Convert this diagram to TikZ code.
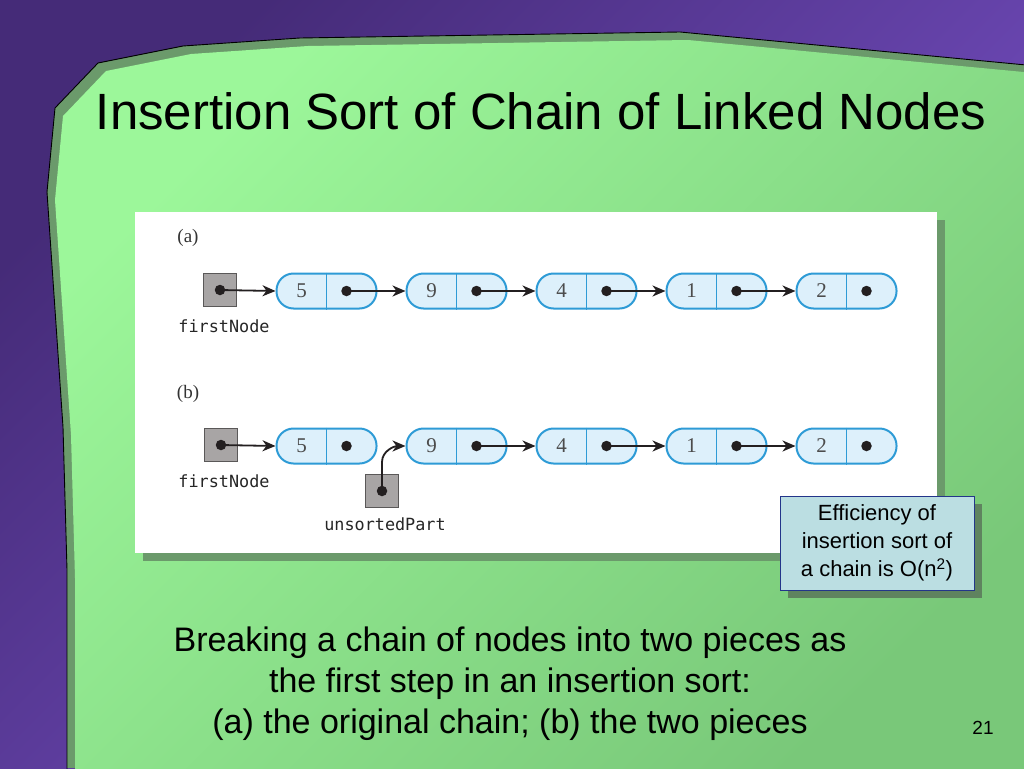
\documentclass[tikz,border=0pt]{standalone}
\usepackage{fontspec}
\setmainfont{Liberation Sans}
\newfontfamily\figserif{Liberation Serif}
\newfontfamily\figmono{DejaVu Sans Mono}
\usetikzlibrary{positioning,arrows.meta,shadows}

\definecolor{slidedark}{HTML}{452B78}
\definecolor{slidelight}{HTML}{7B53CC}
\definecolor{panellight}{HTML}{9CF79A}
\definecolor{paneldark}{HTML}{79C879}
\definecolor{panelband}{HTML}{6B9A6B}
\definecolor{effshade}{HTML}{5F835F}
\definecolor{efffill}{HTML}{BBDEE2}
\definecolor{effedge}{HTML}{23358A}
\definecolor{linkblue}{HTML}{2E9BD6}
\definecolor{linkfill}{HTML}{DDF0FB}
\definecolor{refgray}{HTML}{A8A5A5}
\definecolor{refedge}{HTML}{5A5858}
\definecolor{ink}{HTML}{231F20}

\tikzset{
    >={Stealth[length=13pt,width=11pt,inset=4pt]},
    link/.style = {draw=linkblue, fill=linkfill, line width=2pt,
        rounded corners=17pt, minimum width=100pt, minimum height=35pt, inner sep=0pt},
    linkedge/.style = {draw=linkblue, line width=1.8pt},
    refbox/.style = {draw=refedge, fill=refgray, line width=0.8pt, minimum size=33pt, inner sep=0pt},
    ptr/.style = {circle, fill=ink, inner sep=0pt, minimum size=10.5pt},
    pointer/.style = {draw=ink, line width=1.8pt},
    value/.style = {text=black!70, font=\figserif\fontsize{21}{24}\selectfont},
    figlabel/.style = {text=black!80, font=\figserif\fontsize{19}{22}\selectfont},
    reflabel/.style = {text=black!85, inner sep=0pt, font=\figmono\fontsize{16.8}{20}\selectfont},
    figpanel/.style = {fill=white, minimum width=802pt, minimum height=341pt,
        drop shadow={shadow xshift=8pt, shadow yshift=-8pt, fill=panelband, opacity=1}},
    effbox/.style = {draw=effedge, fill=efffill, line width=0.8pt, align=center,
        minimum width=194pt, minimum height=94pt, inner sep=0pt,
        font=\fontsize{22}{28}\selectfont,
        drop shadow={shadow xshift=8pt, shadow yshift=-8pt, fill=effshade, opacity=1}},
}

\begin{document}
\begin{tikzpicture}[x=1pt, y=-1pt]
    \useasboundingbox (0,0) rectangle (1024,768);
    \def\slidepanel{(67,770) -- (67,570) -- (63,427) -- (47,192) -- (55,108) -- (98,63)
        -- (183,46) -- (300,38) -- (680,32) -- (1026,65) -- (1026,770) -- cycle}

    % background and panel
    \shade[top color=slidedark, bottom color=slidelight, shading angle=45] (0,0) rectangle (1024,768);
    \begin{scope}
        \clip \slidepanel;
        \fill[panelband] (0,0) rectangle (1024,768);
        \shade[top color=panellight, bottom color=paneldark, shading angle=45, shift={(8,8)}] \slidepanel;
    \end{scope}
    \draw[black, line width=0.9pt] \slidepanel;

    \node (title) at (541,111) {\fontsize{51}{60}\selectfont Insertion Sort of Chain of Linked Nodes};

    \node[figpanel] (fig) at (536,382.5) {};

    \node[figlabel] (alabel) at (188,238) {(a)};
    \node[figlabel] (blabel) at (188,394) {(b)};

    \foreach \row/\y in {a/291,b/446}
        \foreach \val [count=\i] in {5,9,4,1,2} {
            \node[link] (\row\i) at (196.5+130*\i,\y) {};
            \draw[linkedge] (\row\i.north) -- (\row\i.south);
            \node[value] (\row\i v) at ([xshift=-25pt]\row\i.center) {\val};
            \node[ptr] (\row\i p) at ([xshift=20pt]\row\i.center) {};
        }

    \node[refbox] (afirst) at (220,290) {};
    \node[ptr] (afirstp) at (afirst.center) {};
    \node[reflabel, below = 13pt of afirst, xshift=4pt] (afirstlbl) {firstNode};

    \node[refbox] (bfirst) at (221,445) {};
    \node[ptr] (bfirstp) at (bfirst.center) {};
    \node[reflabel, below = 13pt of bfirst, xshift=3pt] (bfirstlbl) {firstNode};

    \node[refbox] (bunsorted) at (382,491) {};
    \node[ptr] (bunsortedp) at (bunsorted.center) {};
    \node[reflabel, below = 10pt of bunsorted, xshift=3pt] (bunsortedlbl) {unsortedPart};

    \draw[->, pointer] (afirstp.center) -- (a1.west);
    \foreach \i/\j in {1/2,2/3,3/4,4/5}
        \draw[->, pointer] (a\i p.center) -- (a\j.west);

    \draw[->, pointer] (bfirstp.center) -- (b1.west);
    \foreach \i/\j in {2/3,3/4,4/5}
        \draw[->, pointer] (b\i p.center) -- (b\j.west);
    \draw[->, pointer] (bunsortedp.center) -- ++(0,-29) to[out=90, in=180] (b2.west);

    \node[effbox] (eff) at (877,543) {Efficiency of\\insertion sort of\\a chain is O(n\textsuperscript{2})};

    \node[align=center, font=\fontsize{34}{41}\selectfont] (caption) at (510,684)
        {Breaking a chain of nodes into two pieces as\\the first step in an insertion sort:\\(a) the original chain; (b) the two pieces};

    \node[font=\fontsize{19}{22}\selectfont] (pageno) at (983,728) {21};
\end{tikzpicture}
\end{document}
